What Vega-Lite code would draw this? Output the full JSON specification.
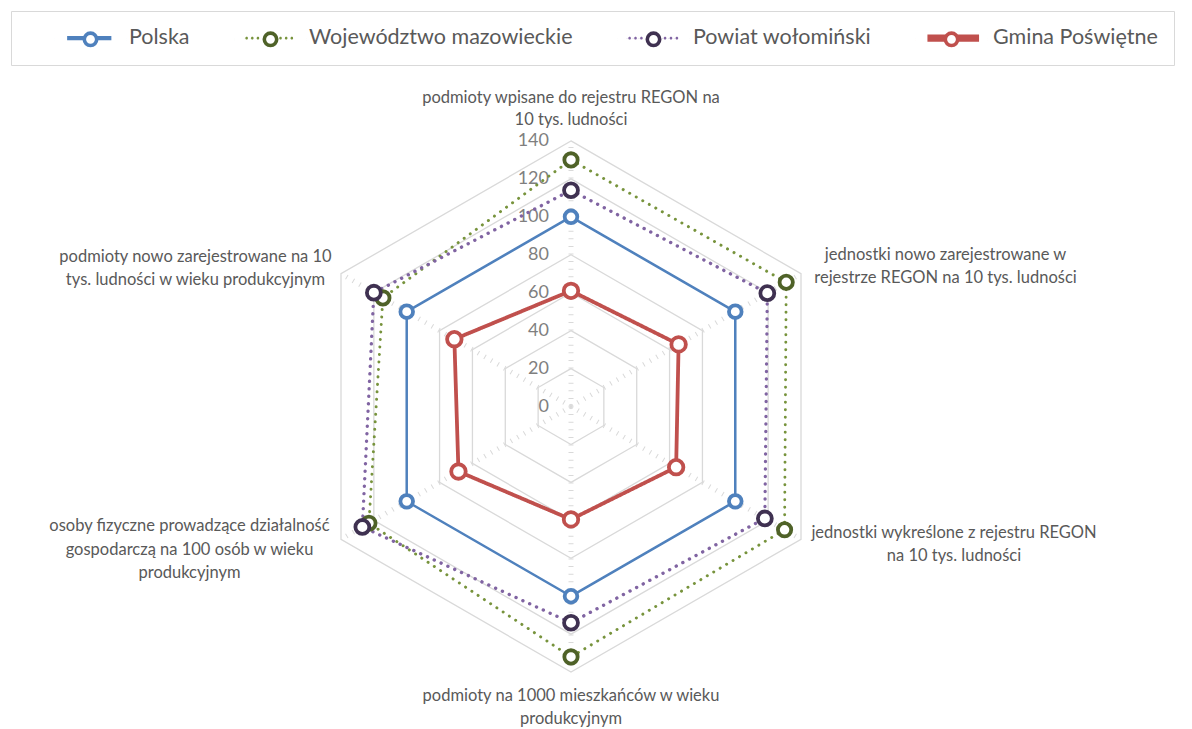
{
  "$schema": "https://vega.github.io/schema/vega-lite/v6.json",
  "width": 1192,
  "height": 729,
  "autosize": {"type": "none"},
  "padding": 0,
  "background": "white",
  "config": {"view": {"stroke": null}, "font": "Lato"},
  "datasets": {
    "vals": [
      {"series": "Polska", "k": 0, "v": 100},
      {"series": "Polska", "k": 1, "v": 100},
      {"series": "Polska", "k": 2, "v": 100},
      {"series": "Polska", "k": 3, "v": 100},
      {"series": "Polska", "k": 4, "v": 100},
      {"series": "Polska", "k": 5, "v": 100},
      {"series": "Województwo mazowieckie", "k": 0, "v": 130},
      {"series": "Województwo mazowieckie", "k": 1, "v": 131},
      {"series": "Województwo mazowieckie", "k": 2, "v": 130},
      {"series": "Województwo mazowieckie", "k": 3, "v": 132},
      {"series": "Województwo mazowieckie", "k": 4, "v": 123},
      {"series": "Województwo mazowieckie", "k": 5, "v": 114.5},
      {"series": "Powiat wołomiński", "k": 0, "v": 114},
      {"series": "Powiat wołomiński", "k": 1, "v": 119.5},
      {"series": "Powiat wołomiński", "k": 2, "v": 118},
      {"series": "Powiat wołomiński", "k": 3, "v": 114},
      {"series": "Powiat wołomiński", "k": 4, "v": 127},
      {"series": "Powiat wołomiński", "k": 5, "v": 120},
      {"series": "Gmina Poświętne", "k": 0, "v": 61},
      {"series": "Gmina Poświętne", "k": 1, "v": 65.5},
      {"series": "Gmina Poświętne", "k": 2, "v": 64},
      {"series": "Gmina Poświętne", "k": 3, "v": 59.5},
      {"series": "Gmina Poświętne", "k": 4, "v": 68.5},
      {"series": "Gmina Poświętne", "k": 5, "v": 71}
    ],
    "axes": [
      {"k": 0, "label": "podmioty wpisane do rejestru REGON na\n10 tys. ludności"},
      {"k": 1, "label": "jednostki nowo zarejestrowane w\nrejestrze REGON na 10 tys. ludności"},
      {"k": 2, "label": "jednostki wykreślone z rejestru REGON\nna 10 tys. ludności"},
      {"k": 3, "label": "podmioty na 1000 mieszkańców w wieku\nprodukcyjnym"},
      {"k": 4, "label": "osoby fizyczne prowadzące działalność\ngospodarczą na 100 osób w wieku\nprodukcyjnym"},
      {"k": 5, "label": "podmioty nowo zarejestrowane na 10\ntys. ludności w wieku produkcyjnym"}
    ],
    "rings": [
      {"r": 20, "k": [0, 1, 2, 3, 4, 5]},
      {"r": 40, "k": [0, 1, 2, 3, 4, 5]},
      {"r": 60, "k": [0, 1, 2, 3, 4, 5]},
      {"r": 80, "k": [0, 1, 2, 3, 4, 5]},
      {"r": 100, "k": [0, 1, 2, 3, 4, 5]},
      {"r": 120, "k": [0, 1, 2, 3, 4, 5]},
      {"r": 140, "k": [0, 1, 2, 3, 4, 5]}
    ],
    "scalelabels": [
      {"t": 0}, {"t": 20}, {"t": 40}, {"t": 60}, {"t": 80}, {"t": 100}, {"t": 120}, {"t": 140}
    ]
  },
  "encoding": {
    "x": {"field": "x", "type": "quantitative", "scale": {"domain": [-301, 327.36], "nice": false, "zero": false}, "axis": null},
    "y": {"field": "y", "type": "quantitative", "scale": {"domain": [-170, 214.29], "nice": false, "zero": false}, "axis": null}
  },
  "layer": [
    {
      "data": {"name": "rings"},
      "transform": [
        {"flatten": ["k"]},
        {"calculate": "datum.r * sin(datum.k * PI / 3)", "as": "x"},
        {"calculate": "datum.r * cos(datum.k * PI / 3)", "as": "y"}
      ],
      "mark": {"type": "line", "interpolate": "linear-closed", "color": "#d9d9d9", "strokeWidth": 1.3},
      "encoding": {"detail": {"field": "r"}, "order": {"field": "k", "type": "quantitative"}}
    },
    {
      "data": {"name": "axes"},
      "transform": [
        {"calculate": "140 * sin(datum.k * PI / 3)", "as": "x"},
        {"calculate": "140 * cos(datum.k * PI / 3)", "as": "y"}
      ],
      "mark": {"type": "rule", "color": "#d9d9d9", "strokeWidth": 5, "strokeDash": [1, 6.6], "strokeCap": "butt"},
      "encoding": {
        "x": {"datum": 0, "type": "quantitative"},
        "y": {"datum": 0, "type": "quantitative"},
        "x2": {"field": "x"},
        "y2": {"field": "y"}
      }
    },
    {
      "data": {"name": "scalelabels"},
      "transform": [
        {"calculate": "0", "as": "x"},
        {"calculate": "datum.t", "as": "y"}
      ],
      "mark": {"type": "text", "align": "right", "baseline": "middle", "dx": -22, "fontSize": 18, "color": "#7f7f7f"},
      "encoding": {
        "text": {"field": "t", "type": "nominal"}
      }
    },
    {
      "data": {"name": "vals"},
      "transform": [
        {"calculate": "datum.v * sin(datum.k * PI / 3)", "as": "x"},
        {"calculate": "datum.v * cos(datum.k * PI / 3)", "as": "y"}
      ],
      "mark": {"type": "line", "interpolate": "linear-closed", "strokeCap": "round", "strokeJoin": "round"},
      "encoding": {
        "order": {"field": "k", "type": "quantitative"},
        "color": {
          "field": "series", "type": "nominal",
          "scale": {"domain": ["Polska", "Województwo mazowieckie", "Powiat wołomiński", "Gmina Poświętne"],
                    "range": ["#4f81bd", "#77933c", "#8064a2", "#c0504d"]},
          "legend": {
            "orient": "none", "legendX": 11, "legendY": 11, "direction": "horizontal", "columns": 4,
            "title": " ", "titleOrient": "left", "titleFontSize": 1, "titlePadding": 51.5, "titleColor": "transparent",
            "padding": 16, "strokeColor": "#d9d9d9", "cornerRadius": 0,
            "symbolSize": 400, "symbolStrokeWidth": 3.6, "labelOffset": 29, "columnPadding": 48,
            "labelFontSize": 21.5, "labelColor": "#595959", "labelFont": "Lato", "labelLimit": 400,
            "symbolType": "M-3.6,0h0.001M3.599,0h0.001M-3.3,-0.125H-0.7V0.125H-3.3ZM0.7,-0.125H3.3V0.125H0.7Z",
            "encode": {"symbols": {"update": {
              "shape": [
                {"test": "datum.value === 'Województwo mazowieckie' || datum.value === 'Powiat wołomiński'", "value": "M-3.6,0h0.001M3.599,0h0.001M-3.59,0a0.19,0.19 0 1,0 0.38,0a0.19,0.19 0 1,0 -0.38,0M-2.74,0a0.19,0.19 0 1,0 0.38,0a0.19,0.19 0 1,0 -0.38,0M-1.89,0a0.19,0.19 0 1,0 0.38,0a0.19,0.19 0 1,0 -0.38,0M1.51,0a0.19,0.19 0 1,0 0.38,0a0.19,0.19 0 1,0 -0.38,0M2.36,0a0.19,0.19 0 1,0 0.38,0a0.19,0.19 0 1,0 -0.38,0M3.21,0a0.19,0.19 0 1,0 0.38,0a0.19,0.19 0 1,0 -0.38,0"},
                {"test": "datum.value === 'Gmina Poświętne'", "value": "M-3.6,0h0.001M3.599,0h0.001M-3.3,-0.25H-0.7V0.25H-3.3ZM0.7,-0.25H3.3V0.25H0.7Z"},
                {"value": "M-3.6,0h0.001M3.599,0h0.001M-3.3,-0.125H-0.7V0.125H-3.3ZM0.7,-0.125H3.3V0.125H0.7Z"}
              ],
              "fill": {"scale": "color", "field": "value"},
              "stroke": {"value": "transparent"},
              "strokeWidth": {"value": 3.6},
              "opacity": {"value": 1}
            }}}
          }
        },
        "strokeDash": {
          "field": "series", "type": "nominal",
          "scale": {"domain": ["Polska", "Województwo mazowieckie", "Powiat wołomiński", "Gmina Poświętne"],
                    "range": [[1, 0], [0.1, 7.4], [0.1, 7.4], [1, 0]]},
          "legend": null
        },
        "strokeWidth": {
          "field": "series", "type": "nominal",
          "scale": {"domain": ["Polska", "Województwo mazowieckie", "Powiat wołomiński", "Gmina Poświętne"],
                    "range": [2.5, 3.8, 3.8, 5]},
          "legend": null
        }
      }
    },
    {
      "data": {"name": "vals"},
      "transform": [
        {"calculate": "datum.v * sin(datum.k * PI / 3)", "as": "x"},
        {"calculate": "datum.v * cos(datum.k * PI / 3)", "as": "y"}
      ],
      "mark": {"type": "point", "shape": "circle", "filled": true, "fill": "white", "strokeWidth": 3.8, "opacity": 1},
      "encoding": {
        "stroke": {
          "field": "series", "type": "nominal",
          "scale": {"domain": ["Polska", "Województwo mazowieckie", "Powiat wołomiński", "Gmina Poświętne"],
                    "range": ["#4f81bd", "#4f6228", "#3f3151", "#c0504d"]},
          "legend": {
            "orient": "top-left", "offset": 11, "direction": "horizontal", "columns": 4,
            "title": " ", "titleOrient": "left", "titleFontSize": 1, "titlePadding": 51.5, "titleColor": "transparent",
            "padding": 16,
            "symbolSize": 400, "symbolStrokeWidth": 3.6, "labelOffset": 29, "columnPadding": 34,
            "labelFontSize": 21.5, "labelColor": "transparent", "labelFont": "Lato", "labelLimit": 400,
            "symbolType": "M-3.6,0h0.001M3.599,0h0.001M-0.62,0A0.62,0.62,0,1,1,0.62,0A0.62,0.62,0,1,1,-0.62,0Z",
            "encode": {"symbols": {"update": {
              "fill": {"value": "white"},
              "strokeWidth": {"value": 3.6},
              "opacity": {"value": 1}
            }}}
          }
        },
        "size": {
          "field": "series", "type": "nominal",
          "scale": {"domain": ["Polska", "Województwo mazowieckie", "Powiat wołomiński", "Gmina Poświętne"],
                    "range": [160, 210, 210, 200]},
          "legend": null
        }
      }
    },
    {
      "data": {"name": "axes"},
      "transform": [
        {"filter": "datum.k == 0"},
        {"calculate": "147 * sin(datum.k * PI / 3)", "as": "x"},
        {"calculate": "147 * cos(datum.k * PI / 3)", "as": "y"}
      ],
      "mark": {"type": "text", "lineBreak": "\n", "align": "center", "baseline": "bottom", "dy": -22, "fontSize": 16.5, "lineHeight": 22, "color": "#595959"},
      "encoding": {"text": {"field": "label"}}
    },
    {
      "data": {"name": "axes"},
      "transform": [
        {"filter": "datum.k == 3"},
        {"calculate": "147 * sin(datum.k * PI / 3)", "as": "x"},
        {"calculate": "147 * cos(datum.k * PI / 3)", "as": "y"}
      ],
      "mark": {"type": "text", "lineBreak": "\n", "align": "center", "baseline": "top", "dy": 3, "fontSize": 16.5, "lineHeight": 23, "color": "#595959"},
      "encoding": {"text": {"field": "label"}}
    },
    {
      "data": {"name": "axes"},
      "transform": [
        {"filter": "datum.k == 1"},
        {"calculate": "147 * sin(datum.k * PI / 3)", "as": "x"},
        {"calculate": "147 * cos(datum.k * PI / 3)", "as": "y"}
      ],
      "mark": {"type": "text", "lineBreak": "\n", "align": "center", "baseline": "middle", "dx": 133, "dy": -12.5, "fontSize": 16.5, "lineHeight": 23.5, "color": "#595959"},
      "encoding": {"text": {"field": "label"}}
    },
    {
      "data": {"name": "axes"},
      "transform": [
        {"filter": "datum.k == 2"},
        {"calculate": "147 * sin(datum.k * PI / 3)", "as": "x"},
        {"calculate": "147 * cos(datum.k * PI / 3)", "as": "y"}
      ],
      "mark": {"type": "text", "lineBreak": "\n", "align": "center", "baseline": "middle", "dx": 141.5, "dy": -13, "fontSize": 16.5, "lineHeight": 23.5, "color": "#595959"},
      "encoding": {"text": {"field": "label"}}
    },
    {
      "data": {"name": "axes"},
      "transform": [
        {"filter": "datum.k == 4"},
        {"calculate": "147 * sin(datum.k * PI / 3)", "as": "x"},
        {"calculate": "147 * cos(datum.k * PI / 3)", "as": "y"}
      ],
      "mark": {"type": "text", "lineBreak": "\n", "align": "center", "baseline": "middle", "dx": -140, "dy": -19.5, "fontSize": 16.5, "lineHeight": 23.5, "color": "#595959"},
      "encoding": {"text": {"field": "label"}}
    },
    {
      "data": {"name": "axes"},
      "transform": [
        {"filter": "datum.k == 5"},
        {"calculate": "147 * sin(datum.k * PI / 3)", "as": "x"},
        {"calculate": "147 * cos(datum.k * PI / 3)", "as": "y"}
      ],
      "mark": {"type": "text", "lineBreak": "\n", "align": "center", "baseline": "middle", "dx": -134, "dy": -10.5, "fontSize": 16.5, "lineHeight": 23.5, "color": "#595959"},
      "encoding": {"text": {"field": "label"}}
    }
  ]
}
